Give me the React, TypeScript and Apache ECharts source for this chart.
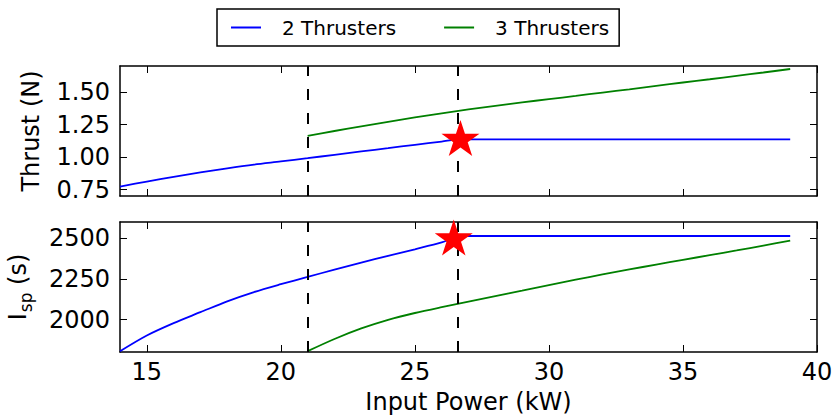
import React, { useEffect, useRef } from "react";
import * as echarts from "echarts";

// ---- data ----
const powerTwo = [14, 15, 16, 17, 18, 19, 20, 21, 22, 23, 24, 25, 26, 26.7, 30, 39];
const thrustTwo = [0.773, 0.811, 0.847, 0.881, 0.913, 0.942, 0.966, 0.991, 1.017, 1.043, 1.068, 1.094, 1.119, 1.136, 1.136, 1.136];
const ispTwo = [1805, 1902, 1978, 2045, 2112, 2169, 2217, 2262, 2307, 2350, 2392, 2432, 2474, 2514, 2514, 2514];

const powerThree = [21, 22, 23, 24, 25, 26, 27, 28, 29, 30, 31, 32, 33, 34, 35, 36, 37, 38, 39];
const thrustThree = [1.162, 1.2, 1.236, 1.271, 1.304, 1.336, 1.366, 1.394, 1.42, 1.445, 1.47, 1.496, 1.521, 1.547, 1.573, 1.598, 1.624, 1.65, 1.677];
const ispThree = [1805, 1880, 1945, 1998, 2040, 2076, 2110, 2144, 2178, 2212, 2245, 2277, 2308, 2338, 2367, 2396, 2425, 2455, 2486];

const switchPower = [21.0, 26.6];
const starThrust = [26.7, 1.131];
const starIsp = [26.45, 2493];

const xTicks = [15, 20, 25, 30, 35, 40];
const thrustTicks = [0.75, 1.0, 1.25, 1.5];
const ispTicks = [2000, 2250, 2500];

const FONT = '"DejaVu Sans", sans-serif';
const FS = 24;
const STAR =
  "path://M50,0 L61.23,34.55 L97.55,34.55 L68.16,55.9 L79.39,90.45 L50,69.1 L20.61,90.45 L31.84,55.9 L2.45,34.55 L38.77,34.55 Z";

const zip = (xs: number[], ys: number[]) => xs.map((x, i) => [x, ys[i]]);

export default function App() {
  const ref = useRef<HTMLDivElement>(null);
  useEffect(() => {
    if (!ref.current) return;
    const chart = echarts.init(ref.current, undefined, { renderer: "svg" });

    const axisLine = { show: true, onZero: false, lineStyle: { color: "#000", width: 1.5 } };
    const tick = (vals: number[]) => ({
      show: true,
      inside: true,
      length: 7,
      customValues: vals,
      lineStyle: { color: "#000", width: 1 },
    });
    const noLabel = { show: false };
    const lbl = (vals: number[], fmt: (v: number) => string, margin: number) => ({
      show: true,
      customValues: vals,
      fontFamily: FONT,
      fontSize: FS,
      color: "#000",
      margin,
      formatter: fmt,
    });

    const xAxisBase = (grid: number, pos: string, showLabel: boolean) => ({
      type: "value",
      gridIndex: grid,
      position: pos,
      min: 14,
      max: 40,
      axisLine,
      axisTick: tick(xTicks),
      axisLabel: showLabel ? lbl(xTicks, (v: number) => String(v), 8) : noLabel,
      splitLine: { show: false },
    });

    const dashed = {
      silent: true,
      symbol: ["none", "none"],
      label: { show: false },
      lineStyle: { color: "#000", type: [11, 13], width: 2 },
      data: switchPower.map((v) => ({ xAxis: v })),
    };

    const lineSeries = (name: string, color: string, xi: number, data: number[][], ml: boolean) => ({
      name,
      type: "line",
      xAxisIndex: xi,
      yAxisIndex: xi,
      data,
      color,
      symbol: "none",
      showSymbol: false,
      smooth: 0.3,
      lineStyle: { color, width: 1.8 },
      markLine: ml ? dashed : undefined,
      z: 2,
    });

    const starSeries = (xi: number, pt: number[]) => ({
      name: "optimum",
      type: "scatter",
      xAxisIndex: xi,
      yAxisIndex: xi,
      data: [pt],
      symbol: STAR,
      symbolSize: [38, 36],
      symbolOffset: [0, -2],
      itemStyle: { color: "#ff0000", opacity: 1 },
      z: 5,
    });

    chart.setOption({
      animation: false,
      backgroundColor: "#fff",
      textStyle: { fontFamily: FONT },
      grid: [
        { left: 120, right: 15, top: 66, height: 130, outerBoundsMode: "none", containLabel: false },
        { left: 120, right: 15, top: 222, height: 130, outerBoundsMode: "none", containLabel: false },
      ],
      legend: {
        left: 217,
        top: 9,
        orient: "horizontal",
        padding: [8.5, 10, 8.5, 14],
        itemGap: 48,
        itemWidth: 30,
        itemHeight: 2,
        borderColor: "#000",
        borderWidth: 1.5,
        borderRadius: 0,
        textStyle: { fontFamily: FONT, fontSize: 20, color: "#000", padding: [0, 0, 0, 16] },
        data: [
          { name: "2 Thrusters", icon: "rect" },
          { name: "3 Thrusters", icon: "rect" },
        ],
      },
      xAxis: [
        xAxisBase(0, "bottom", false),
        {
          ...xAxisBase(1, "bottom", true),
          name: "Input Power (kW)",
          nameLocation: "middle",
          nameGap: 38,
          nameTextStyle: { fontFamily: FONT, fontSize: FS, color: "#000" },
        },
        xAxisBase(0, "top", false),
        xAxisBase(1, "top", false),
      ],
      yAxis: [
        {
          type: "value",
          gridIndex: 0,
          position: "left",
          min: 0.7,
          max: 1.7,
          axisLine,
          axisTick: tick(thrustTicks),
          axisLabel: lbl(thrustTicks, (v: number) => v.toFixed(2), 10),
          splitLine: { show: false },
          name: "Thrust (N)",
          nameLocation: "middle",
          nameGap: 77,
          nameTextStyle: { fontFamily: FONT, fontSize: FS, color: "#000" },
        },
        {
          type: "value",
          gridIndex: 1,
          position: "left",
          min: 1800,
          max: 2600,
          axisLine,
          axisTick: tick(ispTicks),
          axisLabel: lbl(ispTicks, (v: number) => String(v), 10),
          splitLine: { show: false },
          name: "{i|I}{s|sp}{n| (s)}",
          nameLocation: "middle",
          nameGap: 87,
          nameTextStyle: {
            fontFamily: FONT,
            fontSize: FS,
            color: "#000",
            rich: {
              i: { fontFamily: FONT, fontSize: FS, color: "#000", lineHeight: 30 },
              s: { fontFamily: FONT, fontSize: 17, color: "#000", lineHeight: 30, padding: [16, 0, 0, 1] },
              n: { fontFamily: FONT, fontSize: FS, color: "#000", lineHeight: 30 },
            },
          },
        },
        {
          type: "value",
          gridIndex: 0,
          position: "right",
          min: 0.7,
          max: 1.7,
          axisLine,
          axisTick: tick(thrustTicks),
          axisLabel: noLabel,
          splitLine: { show: false },
        },
        {
          type: "value",
          gridIndex: 1,
          position: "right",
          min: 1800,
          max: 2600,
          axisLine,
          axisTick: tick(ispTicks),
          axisLabel: noLabel,
          splitLine: { show: false },
        },
      ],
      series: [
        lineSeries("2 Thrusters", "#0000ff", 0, zip(powerTwo, thrustTwo), true),
        lineSeries("3 Thrusters", "#008000", 0, zip(powerThree, thrustThree), false),
        starSeries(0, starThrust),
        lineSeries("2 Thrusters", "#0000ff", 1, zip(powerTwo, ispTwo), true),
        lineSeries("3 Thrusters", "#008000", 1, zip(powerThree, ispThree), false),
        starSeries(1, starIsp),
      ],
    });
    return () => chart.dispose();
  }, []);

  return (
    <div
      ref={ref}
      style={{ position: "fixed", left: 0, top: 0, width: 832, height: 418, background: "#fff" }}
    />
  );
}
